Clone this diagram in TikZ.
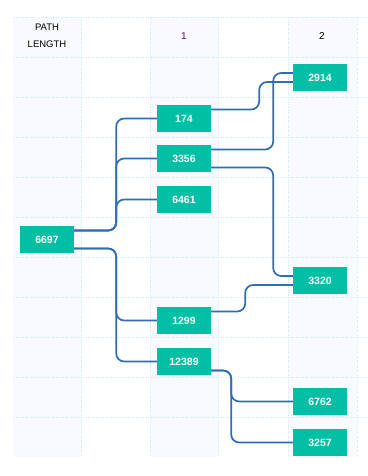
\documentclass[tikz,border=0pt]{standalone}
\usepackage{fontspec}
\setmainfont{Liberation Sans}
\definecolor{nodegreen}{HTML}{00BFA5}
\definecolor{linkblue}{HTML}{2F6DB5}
\definecolor{gridcyan}{HTML}{C9E9F4}
\definecolor{colshade}{HTML}{F9FAFD}
\definecolor{headpurple}{HTML}{800080}

\begin{document}
\begin{tikzpicture}[x=1pt,y=-1pt,
    pathbox/.style={fill=nodegreen, text=white, font=\fontsize{10.5}{12}\selectfont\bfseries,
      minimum width=54pt, minimum height=27pt, inner sep=0pt},
    link/.style={draw=linkblue, line width=1.7pt, rounded corners=8pt},
    gridline/.style={draw=gridcyan, line width=0.6pt, dash pattern=on 1pt off 1.5pt}]
    \useasboundingbox (0,0) rectangle (367,476);
    \foreach \x in {13,150,288} \fill[colshade] (\x,17) rectangle ++(69,440);
    \foreach \y in {17,57,...,417} \draw[gridline] (13,\y) -- (367,\y);
    \foreach \x in {81,150,218,288,357} \draw[gridline] (\x,17) -- (\x,457);

    \node[align=center, font=\fontsize{9.5}{17}\selectfont] (pathlen) at (47,36) {PATH\\LENGTH};
    \node[text=headpurple, font=\fontsize{10}{12}\selectfont] (len1) at (184,36) {1};
    \node[font=\fontsize{10}{12}\selectfont] (len2) at (322,36) {2};

    \node[pathbox] (n6697) at (47,239.5) {6697};
    \node[pathbox] (n174) at (184,118.5) {174};
    \node[pathbox] (n3356) at (184,158.5) {3356};
    \node[pathbox] (n6461) at (184,199.5) {6461};
    \node[pathbox] (n1299) at (184,320.5) {1299};
    \node[pathbox] (n12389) at (184,361.5) {12389};
    \node[pathbox] (n2914) at (320,77.5) {2914};
    \node[pathbox] (n3320) at (320,280.5) {3320};
    \node[pathbox] (n6762) at (320,401.5) {6762};
    \node[pathbox] (n3257) at (320,442.5) {3257};

    \draw[link] ([yshift=9pt]n6697.east) -- ++(42,0) |- (n174.west);
    \draw[link] ([yshift=9pt]n6697.east) -- ++(42,0) |- (n3356.west);
    \draw[link] ([yshift=9pt]n6697.east) -- ++(42,0) |- (n6461.west);
    \draw[link] ([yshift=-9pt]n6697.east) -- ++(42,0) |- (n1299.west);
    \draw[link] ([yshift=-9pt]n6697.east) -- ++(42,0) |- (n12389.west);
    \draw[link] ([yshift=9pt]n174.east) -- ++(48,0) |- ([yshift=-4.5pt]n2914.west);
    \draw[link] ([yshift=9pt]n3356.east) -- ++(62,0) |- ([yshift=4.5pt]n2914.west);
    \draw[link] ([yshift=-9pt]n3356.east) -- ++(62,0) |- ([yshift=4.5pt]n3320.west);
    \draw[link] ([yshift=9pt]n1299.east) -- ++(34,0) |- ([yshift=-4.5pt]n3320.west);
    \draw[link] ([yshift=-9pt]n12389.east) -- ++(20,0) |- (n6762.west);
    \draw[link] ([yshift=-9pt]n12389.east) -- ++(20,0) |- (n3257.west);
\end{tikzpicture}
\end{document}
